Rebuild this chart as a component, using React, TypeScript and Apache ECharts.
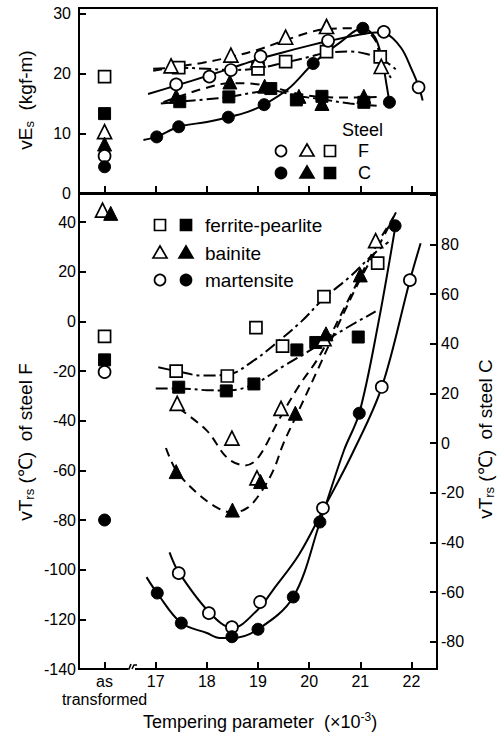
import React, { useEffect, useRef } from "react";
import * as echarts from "echarts";

// ---------- axes ----------
const xMin = 15.5;
const xMax = 22.5;
const asTransformedX = 16; // "as transformed" position on the tempering-parameter axis
const xTickLabels = [17, 18, 19, 20, 21, 22];
const vEsMin = 0;
const vEsMax = 31;
const fMin = -140;
const fMax = 51.3;
const cOffset = 49; // steel C scale = steel F scale + offset
const cTickLabels = [-80, -60, -40, -20, 0, 20, 40, 60, 80];

// ---------- top panel: vEs (kgf-m) ----------
const vEsFerriteF = [[16, 19.5], [17.45, 21.0], [19.0, 20.8], [19.54, 22.0], [20.34, 23.7], [21.39, 22.8]];
const vEsFerriteC = [[16, 13.3], [17.47, 15.3], [18.43, 16.1], [19.25, 17.5], [19.75, 15.6], [20.25, 16.2], [21.07, 15.2]];
const vEsBainiteF = [[16, 10.3], [17.3, 21.3], [18.47, 23.1], [19.0, 22.3], [19.54, 26.1], [20.34, 27.9], [21.41, 21.2]];
const vEsBainiteC = [[16, 8.2], [17.4, 16.2], [18.45, 18.6], [19.13, 17.9], [19.8, 16.2], [20.25, 15.0], [21.07, 16.2]];
const vEsMartF = [[16, 6.2], [17.4, 18.2], [18.05, 19.5], [18.47, 20.6], [19.05, 22.9], [20.37, 25.5], [21.46, 27.0], [22.14, 17.7]];
const vEsMartC = [[16, 4.4], [17.02, 9.4], [17.45, 11.1], [18.42, 12.7], [19.12, 14.8], [20.08, 21.7], [21.05, 27.6], [21.57, 15.2]];

const vEsFerriteFCurve = [[16.95, 20.8], [17.45, 21.0], [18.0, 20.8], [18.5, 20.6], [19.0, 20.9], [19.5, 21.8], [20.0, 22.8], [20.34, 23.5], [20.83, 23.7], [21.22, 23.1], [21.4, 22.6], [21.71, 20.6]];
const vEsFerriteCCurve = [[17.1, 15.0], [17.47, 15.3], [18.0, 15.7], [18.43, 16.1], [18.9, 16.8], [19.25, 17.2], [19.75, 16.3], [20.25, 15.7], [20.8, 15.0], [21.32, 14.6]];
const vEsBainiteFCurve = [[16.95, 20.5], [17.3, 21.0], [17.9, 21.8], [18.47, 22.8], [19.0, 24.0], [19.5, 25.5], [20.0, 26.9], [20.34, 27.5], [20.8, 27.6], [21.1, 27.2], [21.3, 25.5], [21.41, 22.0], [21.6, 19.3]];
const vEsBainiteCCurve = [[17.15, 15.2], [17.4, 16.0], [17.9, 17.4], [18.45, 18.4], [18.9, 18.3], [19.25, 17.8], [19.8, 16.6], [20.25, 16.1], [20.8, 16.0], [21.32, 16.1]];
const vEsMartFCurve = [[16.85, 16.6], [17.4, 18.0], [18.0, 19.6], [18.5, 21.0], [19.0, 22.4], [19.5, 23.6], [20.0, 24.7], [20.4, 25.5], [20.9, 26.4], [21.3, 26.9], [21.5, 26.7], [21.8, 24.3], [22.0, 20.8], [22.14, 17.9], [22.22, 15.5]];
const vEsMartCCurve = [[16.76, 8.9], [17.02, 9.4], [17.45, 11.1], [18.0, 11.9], [18.42, 12.7], [18.8, 13.6], [19.12, 14.8], [19.6, 17.5], [20.08, 21.7], [20.6, 25.2], [21.05, 27.6], [21.28, 26.2], [21.42, 22.6], [21.52, 17.8], [21.57, 15.2]];

// ---------- bottom panel: vTrs (°C); steel F on left axis, steel C on right axis ----------
const vTrsFerriteF = [[16, -6], [17.4, -20], [18.4, -22], [18.96, -2.5], [19.48, -10], [20.29, 10], [21.34, 23.5]];
const vTrsFerriteC = [[16, 33.5], [17.45, 22.5], [18.38, 21], [18.92, 23.8], [19.76, 37.5], [20.13, 40.5], [20.96, 42.7]];
const vTrsBainiteF = [[15.96, 44.8], [17.42, -33], [18.49, -47], [18.98, -63], [19.45, -35], [20.29, -7], [21.3, 32.5]];
const vTrsBainiteC = [[16.12, 92.5], [17.4, -11.5], [18.5, -27], [19.05, -15.5], [19.73, 12], [20.33, 44], [21.0, 67.7]];
const vTrsMartF = [[16, -20.4], [17.45, -101.4], [18.04, -117.5], [18.49, -123.2], [19.04, -113], [20.27, -75.2], [21.42, -26.4], [21.97, 16.6]];
const vTrsMartC = [[16, -31], [17.03, -60.4], [17.5, -72.5], [18.49, -78], [19.0, -75], [19.69, -62], [20.21, -31.8], [20.98, 12], [21.68, 87.5]];

const vTrsFerriteFCurve = [[17.05, -18.5], [17.4, -20], [17.9, -21.8], [18.4, -21.5], [18.9, -16], [19.4, -8], [19.85, 0], [20.3, 9.5], [20.8, 18], [21.2, 26], [21.55, 32]];
const vTrsFerriteCCurve = [[17.0, 22], [17.45, 22], [18.0, 21.3], [18.4, 21.2], [18.9, 23.5], [19.5, 31], [20.15, 39], [20.7, 46], [21.3, 53]];
const vTrsBainiteFCurve = [[17.45, -35], [18.0, -44], [18.4, -55], [18.75, -58], [19.0, -55], [19.4, -40], [19.8, -26], [20.2, -14], [20.8, 10], [21.3, 30], [21.65, 42]];
const vTrsBainiteCCurve = [[17.2, -2], [17.4, -11], [17.8, -20], [18.2, -26], [18.5, -28], [18.8, -26], [19.05, -20], [19.3, -11], [19.5, 0], [19.75, 11], [20.2, 31], [20.6, 49], [21.0, 66], [21.4, 81], [21.7, 93]];
const vTrsMartFCurve = [[17.27, -93], [17.45, -101], [18.04, -117], [18.5, -123.5], [19.0, -116], [19.3, -108], [19.8, -94], [20.27, -76], [20.85, -53], [21.42, -26.5], [21.97, 16.5], [22.18, 31.5]];
const vTrsMartCCurve = [[16.82, -54], [17.03, -60.5], [17.5, -72.5], [18.0, -76.5], [18.25, -78.5], [18.5, -78.5], [19.0, -75], [19.69, -62], [20.21, -32], [20.68, -3], [20.98, 12], [21.35, 48], [21.7, 89]];

// ---------- texts ----------
const legendStructures = ["ferrite-pearlite", "bainite", "martensite"];
const steelLegendTitle = "Steel";
const steelNames = ["F", "C"];

const FONT = "'Liberation Sans', Arial, sans-serif";
const DASHED = [9, 6];
const DASHDOT = [12, 4, 3, 4];
const SOLID = "solid";

export default function App() {
  const ref = useRef<HTMLDivElement>(null);

  useEffect(() => {
    const chart = echarts.init(ref.current!, null, { renderer: "svg" });

    const specs: any[] = [
      { pts: vEsFerriteF, curve: vEsFerriteFCurve, sym: "rect", filled: false, dash: DASHDOT, x: 0, y: 0 },
      { pts: vEsFerriteC, curve: vEsFerriteCCurve, sym: "rect", filled: true, dash: DASHDOT, x: 0, y: 0 },
      { pts: vEsBainiteF, curve: vEsBainiteFCurve, sym: "triangle", filled: false, dash: DASHED, x: 0, y: 0 },
      { pts: vEsBainiteC, curve: vEsBainiteCCurve, sym: "triangle", filled: true, dash: DASHED, x: 0, y: 0 },
      { pts: vEsMartF, curve: vEsMartFCurve, sym: "circle", filled: false, dash: SOLID, x: 0, y: 0 },
      { pts: vEsMartC, curve: vEsMartCCurve, sym: "circle", filled: true, dash: SOLID, x: 0, y: 0 },
      { pts: vTrsFerriteF, curve: vTrsFerriteFCurve, sym: "rect", filled: false, dash: DASHDOT, x: 1, y: 1 },
      { pts: vTrsFerriteC, curve: vTrsFerriteCCurve, sym: "rect", filled: true, dash: DASHDOT, x: 1, y: 2 },
      { pts: vTrsBainiteF, curve: vTrsBainiteFCurve, sym: "triangle", filled: false, dash: DASHED, x: 1, y: 1 },
      { pts: vTrsBainiteC, curve: vTrsBainiteCCurve, sym: "triangle", filled: true, dash: DASHED, x: 1, y: 2 },
      { pts: vTrsMartF, curve: vTrsMartFCurve, sym: "circle", filled: false, dash: SOLID, x: 1, y: 1 },
      { pts: vTrsMartC, curve: vTrsMartCCurve, sym: "circle", filled: true, dash: SOLID, x: 1, y: 2 },
    ];

    const series: any[] = [];
    specs.forEach((s, i) => {
      series.push({
        type: "line",
        name: "curve" + i,
        data: s.curve,
        xAxisIndex: s.x,
        yAxisIndex: s.y,
        smooth: 0.35,
        symbol: "none",
        showSymbol: false,
        silent: true,
        lineStyle: { color: "#000", width: 2, type: s.dash, opacity: 1 },
        z: 3,
      });
    });
    specs.forEach((s, i) => {
      series.push({
        type: "scatter",
        name: "pts" + i,
        data: s.pts,
        xAxisIndex: s.x,
        yAxisIndex: s.y,
        symbol: s.sym,
        symbolSize: s.sym === "triangle" ? 14 : 12,
        silent: true,
        itemStyle: s.filled
          ? { color: "#000", borderColor: "#000", borderWidth: 1, opacity: 1 }
          : { color: "#fff", borderColor: "#000", borderWidth: 1.7, opacity: 1 },
        z: 5,
      });
    });

    const axisLine = { show: true, onZero: false, lineStyle: { color: "#000", width: 2 } };
    const axisTick = { show: true, inside: true, length: 7, lineStyle: { color: "#000", width: 2 } };
    const labelStyle = { color: "#000", fontFamily: FONT, fontSize: 16 };

    const xFormatter = (v: number) => {
      if (Math.abs(v - asTransformedX) < 1e-6) return "as\ntransformed";
      const hit = xTickLabels.find((t) => Math.abs(t - v) < 1e-6);
      return hit !== undefined ? String(hit) : "";
    };

    const symEl = (kind: string, filled: boolean, cx: number, cy: number) => {
      const style = { fill: filled ? "#000" : "#fff", stroke: "#000", lineWidth: 1.7 };
      if (kind === "circle") return { type: "circle", shape: { cx, cy, r: 5.5 }, style, z: 10 };
      if (kind === "rect") return { type: "rect", shape: { x: cx - 5.5, y: cy - 5.5, width: 11, height: 11 }, style, z: 10 };
      return { type: "polygon", shape: { points: [[cx, cy - 7], [cx - 7, cy + 5], [cx + 7, cy + 5]] }, style, z: 10 };
    };

    const txt = (text: string, x: number, y: number, extra: any = {}) => ({
      type: "text",
      x,
      y,
      z: 10,
      style: { text, fill: "#000", fontFamily: FONT, fontSize: 19, align: "left", verticalAlign: "middle", ...extra },
    });

    const rotTitle = (text: string, x: number, y: number) => ({
      type: "text",
      x,
      y,
      rotation: Math.PI / 2,
      z: 10,
      style: {
        text,
        fill: "#000",
        align: "center",
        verticalAlign: "middle",
        rich: {
          a: { fontSize: 19, lineHeight: 22, fontFamily: FONT, fill: "#000" },
          b: { fontSize: 13, lineHeight: 13, verticalAlign: "bottom", fontFamily: FONT, fill: "#000" },
        },
      },
    });

    const kinds = ["rect", "triangle", "circle"];
    const graphic: any[] = [];
    // structure legend (bottom panel)
    const legY = [225, 253, 280];
    legendStructures.forEach((name, i) => {
      graphic.push(symEl(kinds[i], false, 160, legY[i]));
      graphic.push(symEl(kinds[i], true, 186, legY[i]));
      graphic.push(txt(name, 205, legY[i]));
    });
    // steel legend (top panel)
    graphic.push(txt(steelLegendTitle, 342, 130, { fontSize: 18 }));
    const steelKinds = ["circle", "triangle", "rect"];
    const steelX = [281, 307, 330];
    steelNames.forEach((nm, r) => {
      const yy = r === 0 ? 151 : 173;
      steelKinds.forEach((k, j) => graphic.push(symEl(k, r === 1, steelX[j], yy)));
      graphic.push(txt(nm, 358, yy, { fontSize: 18 }));
    });
    // axis titles
    graphic.push(rotTitle("{a|vE}{b|s}{a|  (kgf-m)}", 25, 100));
    graphic.push(rotTitle("{a|vT}{b|rs}{a| (℃)  of steel F}", 25, 442));
    graphic.push(rotTitle("{a|vT}{b|rs}{a| (℃)  of steel C}", 485, 439));
    graphic.push({
      type: "text",
      x: 260,
      y: 722,
      z: 10,
      style: {
        text: "{a|Tempering parameter  (×10}{s|-3}{a|)}",
        fill: "#000",
        align: "center",
        verticalAlign: "middle",
        rich: {
          a: { fontSize: 18, lineHeight: 22, fontFamily: FONT, fill: "#000" },
          s: { fontSize: 12, lineHeight: 12, verticalAlign: "top", fontFamily: FONT, fill: "#000" },
        },
      },
    });
    // axis break mark between "as transformed" and 17
    graphic.push({ type: "rect", shape: { x: 128, y: 665, width: 7, height: 8 }, style: { fill: "#fff" }, z: 20 });
    graphic.push({ type: "polyline", shape: { points: [[126, 669], [129, 669], [131, 664]] }, style: { stroke: "#000", lineWidth: 1.6, fill: null }, z: 21 });
    graphic.push({ type: "polyline", shape: { points: [[132, 669], [134, 665], [137, 665]] }, style: { stroke: "#000", lineWidth: 1.6, fill: null }, z: 21 });

    const option: any = {
      animation: false,
      backgroundColor: "#fff",
      grid: [
        { left: 79, top: 8, width: 358, height: 185, show: true, borderColor: "#000", borderWidth: 2, containLabel: false },
        { left: 79, top: 194, width: 358, height: 475, show: true, borderColor: "#000", borderWidth: 2, containLabel: false },
      ],
      xAxis: [
        {
          type: "value", gridIndex: 0, min: xMin, max: xMax, minInterval: 1, maxInterval: 1,
          axisLine, axisTick, splitLine: { show: false }, axisLabel: { show: false },
        },
        {
          type: "value", gridIndex: 1, min: xMin, max: xMax, minInterval: 1, maxInterval: 1,
          axisLine, axisTick, splitLine: { show: false },
          axisLabel: { ...labelStyle, margin: 3, lineHeight: 18, formatter: xFormatter },
        },
      ],
      yAxis: [
        {
          type: "value", gridIndex: 0, min: vEsMin, max: vEsMax, interval: 10,
          axisLine, axisTick, splitLine: { show: false },
          axisLabel: { ...labelStyle, margin: 8, formatter: (v: number) => (v % 10 === 0 && v <= 30 ? String(v) : "") },
        },
        {
          type: "value", gridIndex: 1, position: "left", min: fMin, max: fMax, interval: 20,
          axisLine, axisTick, splitLine: { show: false },
          axisLabel: { ...labelStyle, margin: 3, formatter: (v: number) => (v % 20 === 0 && v <= 40 ? String(v) : "") },
        },
        {
          type: "value", gridIndex: 1, position: "right", min: fMin + cOffset, max: fMax + cOffset,
          minInterval: 20, maxInterval: 20,
          axisLine, axisTick, splitLine: { show: false },
          axisLabel: { ...labelStyle, margin: 4, formatter: (v: number) => (cTickLabels.includes(v) ? String(v) : "") },
        },
      ],
      series,
      graphic,
    };

    chart.setOption(option);
    return () => chart.dispose();
  }, []);

  return (
    <div
      ref={ref}
      style={{ position: "absolute", left: 0, top: 0, width: 497, height: 738, background: "#fff" }}
    />
  );
}
